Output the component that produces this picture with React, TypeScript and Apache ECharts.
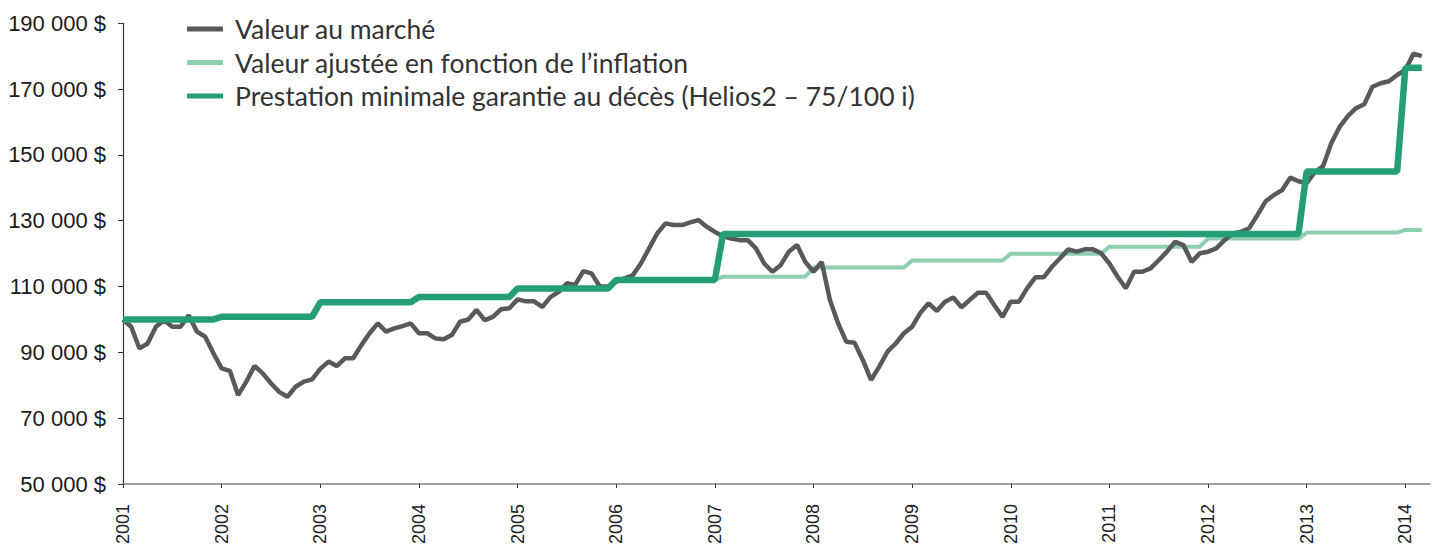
import React, { useEffect, useRef } from "react";
import * as echarts from "echarts";

const years = ["2001","2002","2003","2004","2005","2006","2007","2008","2009","2010","2011","2012","2013","2014"];
const yTicks = [50000, 70000, 90000, 110000, 130000, 150000, 170000, 190000];

const seriesNames = [
  "Valeur au marché",
  "Valeur ajustée en fonction de l\u2019inflation",
  "Prestation minimale garantie au décès (Helios2 \u2013 75/100 i)",
];

// monthly values, one row per year (Jan..Dec)
const market = [
  100000, 97800, 91200, 92700, 97800, 99800, 97800, 97800, 101300, 96300, 94750, 89700,
  85150, 84400, 77000, 81100, 85850, 83600, 80600, 78000, 76500, 79550, 81100, 81800,
  85000, 87200, 85850, 88200, 88200, 92200, 95800, 98800, 96300, 97300, 98000, 98800,
  95800, 95800, 94250, 94000, 95250, 99300, 100000, 102900, 99800, 100800, 103100, 103400,
  106100, 105500, 105500, 103800, 106800, 108400, 111000, 110500, 114700, 114000, 110000, 110000,
  111500, 112500, 113400, 117000, 121600, 126200, 129200, 128700, 128700, 129500, 130200, 128200,
  126600, 125300, 124600, 124100, 124100, 121600, 117000, 114500, 116500, 120600, 122600, 117500,
  114500, 117500, 105900, 98800, 93200, 92900, 87700, 81600, 85650, 90200, 92700, 95800,
  97800, 102000, 104900, 102600, 105400, 106700, 103700, 105900, 108100, 108100, 104300, 100800,
  105400, 105400, 109500, 112800, 112800, 116000, 118600, 121300, 120600, 121300, 121300, 120100,
  117000, 113000, 109500, 114500, 114500, 115500, 118000, 120600, 123600, 122600, 117500, 120100,
  120600, 121600, 124100, 126200, 126600, 127700, 131700, 135900, 137800, 139300, 143100, 142000,
  141400, 144800, 146600, 153600, 158500, 161800, 164200, 165400, 170700, 171800, 172400, 174300,
  175800, 180800, 180000,
];

const inflation = [
  100000, 100000, 100000, 100000, 100000, 100000, 100000, 100000, 100000, 100000, 100000, 100000,
  100800, 100800, 100800, 100800, 100800, 100800, 100800, 100800, 100800, 100800, 100800, 100800,
  105200, 105200, 105200, 105200, 105200, 105200, 105200, 105200, 105200, 105200, 105200, 105200,
  106800, 106800, 106800, 106800, 106800, 106800, 106800, 106800, 106800, 106800, 106800, 106800,
  109400, 109400, 109400, 109400, 109400, 109400, 109400, 109400, 109400, 109400, 109400, 109400,
  112000, 112000, 112000, 112000, 112000, 112000, 112000, 112000, 112000, 112000, 112000, 112000,
  112000, 113000, 113000, 113000, 113000, 113000, 113000, 113000, 113000, 113000, 113000, 113000,
  115800, 115800, 115800, 115800, 115800, 115800, 115800, 115800, 115800, 115800, 115800, 115800,
  117900, 117900, 117900, 117900, 117900, 117900, 117900, 117900, 117900, 117900, 117900, 117900,
  120000, 120000, 120000, 120000, 120000, 120000, 120000, 120000, 120000, 120000, 120000, 120000,
  122100, 122100, 122100, 122100, 122100, 122100, 122100, 122100, 122100, 122100, 122100, 122100,
  124600, 124600, 124600, 124600, 124600, 124600, 124600, 124600, 124600, 124600, 124600, 124600,
  126400, 126400, 126400, 126400, 126400, 126400, 126400, 126400, 126400, 126400, 126400, 126400,
  127200, 127200, 127200,
];

const guarantee = [
  100000, 100000, 100000, 100000, 100000, 100000, 100000, 100000, 100000, 100000, 100000, 100000,
  100800, 100800, 100800, 100800, 100800, 100800, 100800, 100800, 100800, 100800, 100800, 100800,
  105200, 105200, 105200, 105200, 105200, 105200, 105200, 105200, 105200, 105200, 105200, 105200,
  106800, 106800, 106800, 106800, 106800, 106800, 106800, 106800, 106800, 106800, 106800, 106800,
  109400, 109400, 109400, 109400, 109400, 109400, 109400, 109400, 109400, 109400, 109400, 109400,
  112000, 112000, 112000, 112000, 112000, 112000, 112000, 112000, 112000, 112000, 112000, 112000,
  112000, 126000, 126000, 126000, 126000, 126000, 126000, 126000, 126000, 126000, 126000, 126000,
  126000, 126000, 126000, 126000, 126000, 126000, 126000, 126000, 126000, 126000, 126000, 126000,
  126000, 126000, 126000, 126000, 126000, 126000, 126000, 126000, 126000, 126000, 126000, 126000,
  126000, 126000, 126000, 126000, 126000, 126000, 126000, 126000, 126000, 126000, 126000, 126000,
  126000, 126000, 126000, 126000, 126000, 126000, 126000, 126000, 126000, 126000, 126000, 126000,
  126000, 126000, 126000, 126000, 126000, 126000, 126000, 126000, 126000, 126000, 126000, 126000,
  145000, 145000, 145000, 145000, 145000, 145000, 145000, 145000, 145000, 145000, 145000, 145000,
  176500, 176500, 176500,
];

// month categories: Jan 2001 .. Apr 2014
const monthCats: string[] = [];
years.forEach((y) => {
  for (let m = 1; m <= 12; m++) monthCats.push(y + "-" + (m < 10 ? "0" + m : "" + m));
});
const categories = monthCats.slice(0, 160);

const fmtMoney = (v: number) => {
  const s = String(Math.round(v));
  return s.replace(/\B(?=(\d{3})+(?!\d))/g, " ") + " $";
};

export default function App() {
  const ref = useRef<HTMLDivElement>(null);
  useEffect(() => {
    if (!ref.current) return;
    const chart = echarts.init(ref.current, null, { renderer: "svg" });
    chart.setOption({
      animation: false,
      backgroundColor: "#ffffff",
      grid: {
        left: 123,
        right: 2,
        top: 23.3,
        bottom: 68,
        containLabel: false,
        outerBoundsMode: "none",
      },
      legend: {
        orient: "vertical",
        left: 187,
        top: 14,
        padding: 0,
        itemWidth: 36,
        itemHeight: 5,
        itemGap: 3.5,
        icon: "rect",
        data: seriesNames,
        textStyle: {
          fontFamily: "Lato, 'Open Sans', sans-serif",
          fontSize: 26.5,
          color: "#333333",
          lineHeight: 30,
          padding: [0, 0, 0, 7],
        },
      },
      xAxis: {
        type: "category",
        data: categories,
        boundaryGap: false,
        axisLine: { lineStyle: { color: "#7f7f7f", width: 1.5 } },
        axisTick: { interval: 11, length: 4, lineStyle: { color: "#333333", width: 1 } },
        axisLabel: {
          interval: 11,
          rotate: 90,
          margin: 20,
          fontFamily: "'Liberation Sans', Arial, sans-serif",
          fontSize: 18,
          color: "#222222",
          formatter: (v: string) => v.slice(0, 4),
        },
        splitLine: { show: false },
      },
      yAxis: {
        type: "value",
        min: yTicks[0],
        max: yTicks[yTicks.length - 1],
        interval: 20000,
        axisLine: { show: true, lineStyle: { color: "#333333", width: 1.2 } },
        axisTick: { show: true, length: 5, lineStyle: { color: "#333333" } },
        splitLine: { show: false },
        axisLabel: {
          margin: 17,
          fontFamily: "'Liberation Sans', Arial, sans-serif",
          fontSize: 22,
          color: "#1a1a1a",
          formatter: fmtMoney,
        },
      },
      series: [
        {
          name: seriesNames[0],
          type: "line",
          data: market,
          symbol: "none",
          color: "#58595b",
          lineStyle: { width: 4.5, color: "#58595b" },
          z: 3,
        },
        {
          name: seriesNames[1],
          type: "line",
          data: inflation,
          symbol: "none",
          color: "#8dcfae",
          lineStyle: { width: 4, color: "#8dcfae" },
          z: 2,
        },
        {
          name: seriesNames[2],
          type: "line",
          data: guarantee,
          symbol: "none",
          color: "#259e77",
          lineStyle: { width: 6.5, color: "#259e77" },
          z: 4,
        },
      ],
    });
    return () => chart.dispose();
  }, []);
  return (
    <div
      ref={ref}
      style={{ position: "fixed", left: 0, top: 0, width: 1432, height: 552 }}
    />
  );
}
